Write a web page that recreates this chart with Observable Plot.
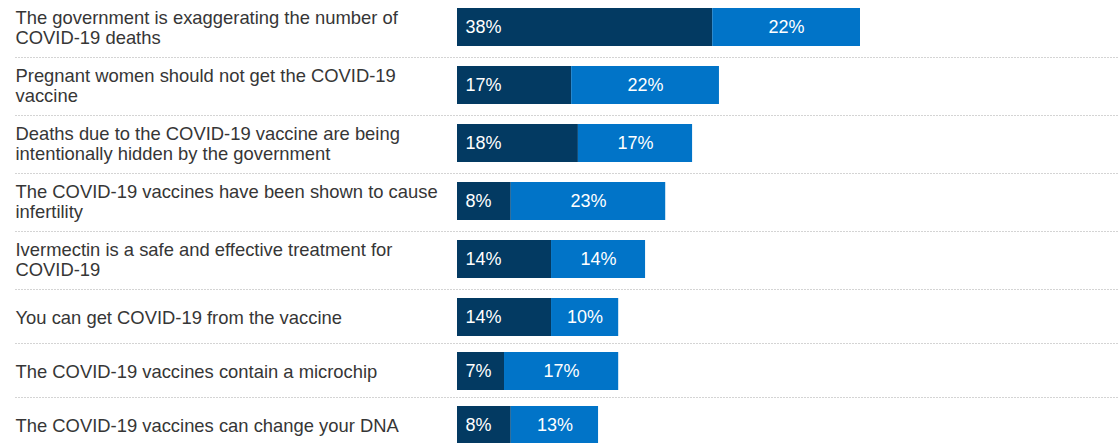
<!DOCTYPE html>
<html>
<head>
<meta charset="utf-8">
<script src="https://cdn.jsdelivr.net/npm/d3@7"></script>
<script src="https://cdn.jsdelivr.net/npm/@observablehq/plot@0.6"></script>
<style>
  html, body { margin: 0; padding: 0; background: #fff; }
  #chart svg { display: block; }
</style>
</head>
<body>
<div id="chart"></div>
<script>
// ---- data ----
const statements = [
  "The government is exaggerating the number of\nCOVID-19 deaths",
  "Pregnant women should not get the COVID-19\nvaccine",
  "Deaths due to the COVID-19 vaccine are being\nintentionally hidden by the government",
  "The COVID-19 vaccines have been shown to cause\ninfertility",
  "Ivermectin is a safe and effective treatment for\nCOVID-19",
  "You can get COVID-19 from the vaccine",
  "The COVID-19 vaccines contain a microchip",
  "The COVID-19 vaccines can change your DNA"
];
const darkValues = [38, 17, 18, 8, 14, 14, 7, 8];
const lightValues = [22, 22, 17, 23, 14, 10, 17, 13];
const seriesNames = ["dark", "light"];

// ---- layout (row height depends on the number of label lines) ----
const rowHeight = lines => (lines > 1 ? 58 : 54);
let cursor = -1;
const rows = statements.map((s, i) => {
  const lines = s.split("\n").length;
  const r = {statement: s, dark: darkValues[i], light: lightValues[i], top: cursor, center: cursor + 28};
  cursor += rowHeight(lines);
  return r;
});
const bars = rows.flatMap(r => [
  {series: "dark", x1: 0, x2: r.dark, value: r.dark, center: r.center},
  {series: "light", x1: r.dark, x2: r.dark + r.light, value: r.light, center: r.center}
]);
const half = 19;

const chart = Plot.plot({
  width: 1119,
  height: 443,
  marginLeft: 15,
  marginRight: 0,
  marginTop: 0,
  marginBottom: 0,
  x: {domain: [0, 60], range: [457, 860], axis: null},
  y: {domain: [0, 443], range: [0, 443], axis: null},
  color: {domain: seriesNames, range: ["#033a62", "#0174c8"]},
  style: {fontFamily: "'Liberation Sans', Arial, sans-serif", fontSize: "18px", background: "#fff"},
  marks: [
    Plot.ruleY(rows.slice(1), {y: "top", stroke: "#d4d4d4", strokeDasharray: "2,1", strokeWidth: 1}),
    Plot.rect(bars, {x1: "x1", x2: "x2", y1: d => d.center - half, y2: d => d.center + half, fill: "series"}),
    Plot.text(rows, {
      y: "center", text: "statement", frameAnchor: "left", textAnchor: "start",
      lineAnchor: "middle", lineHeight: 1.12, fill: "#363636", fontSize: 18.4
    }),
    Plot.text(bars.filter(d => d.series === "dark"), {
      x: "x1", y: "center", text: d => d.value + "%", textAnchor: "start", dx: 8, fill: "white", fontSize: 18
    }),
    Plot.text(bars.filter(d => d.series === "light"), {
      x: d => (d.x1 + d.x2) / 2, y: "center", text: d => d.value + "%", textAnchor: "middle", fill: "white", fontSize: 18
    })
  ]
});
document.getElementById("chart").appendChild(chart);
</script>
</body>
</html>
